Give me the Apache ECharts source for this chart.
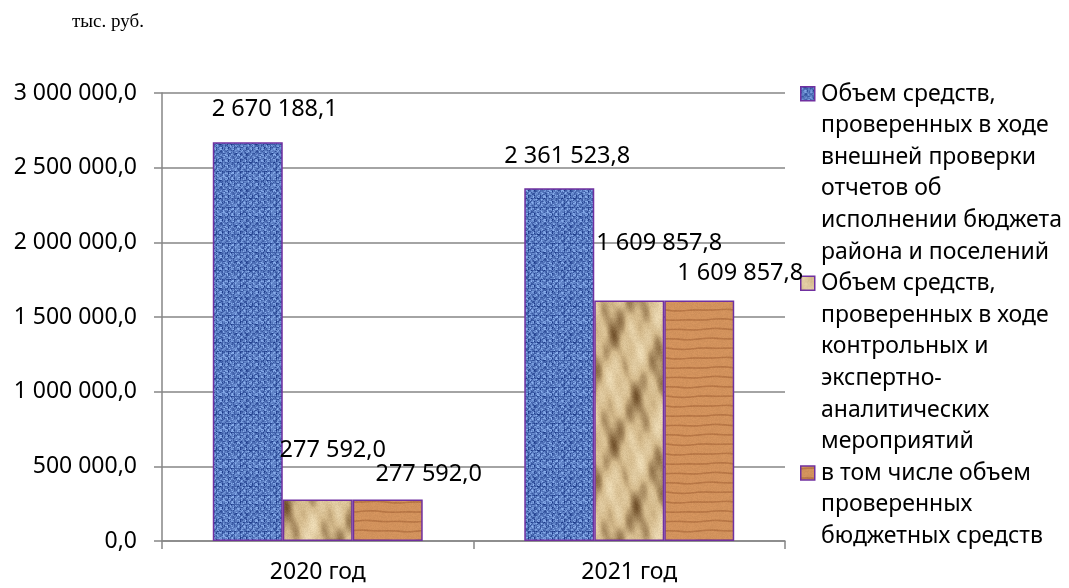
<!DOCTYPE html>
<html>
<head>
<meta charset="utf-8">
<script src="https://cdn.jsdelivr.net/npm/echarts@6/dist/echarts.min.js"></script>
<style>
html,body{margin:0;padding:0;background:#fff;}
#c{width:1069px;height:588px;}
</style>
</head>
<body>
<div id="c"></div>
<script>
// ---- data ----
var categories = ['2020 год', '2021 год'];
var seriesNames = [
  'Объем средств,\nпроверенных в ходе\nвнешней проверки\nотчетов об\nисполнении бюджета\nрайона и поселений',
  'Объем средств,\nпроверенных в ходе\nконтрольных и\nэкспертно-\nаналитических\nмероприятий',
  'в том числе объем\nпроверенных\nбюджетных средств'
];
var externalCheck = [2670188.1, 2361523.8];
var controlEvents = [277592.0, 1609857.8];
var budgetFunds = [277592.0, 1609857.8];
var yTicks = {min: 0, max: 3000000, interval: 500000};
var unitText = 'тыс. руб.';

// ---- helpers ----
function fmt(v) {
  var s = Number(v).toFixed(1).split('.');
  var i = s[0].replace(/\B(?=(\d{3})+(?!\d))/g, ' ');
  return i + ',' + s[1];
}
function hash(x, y) {
  var n = Math.sin(x * 127.1 + y * 311.7) * 43758.5453;
  return n - Math.floor(n);
}
function makeTile(w, h, fn) {
  var c = document.createElement('canvas');
  c.width = w; c.height = h;
  var ctx = c.getContext('2d');
  var img = ctx.createImageData(w, h);
  for (var y = 0; y < h; y++) {
    for (var x = 0; x < w; x++) {
      var col = fn(x, y);
      var k = (y * w + x) * 4;
      img.data[k] = col[0]; img.data[k + 1] = col[1]; img.data[k + 2] = col[2]; img.data[k + 3] = 255;
    }
  }
  ctx.putImageData(img, 0, 0);
  return c;
}
function lerp(a, b, t) {
  t = Math.max(0, Math.min(1, t));
  return [a[0] + (b[0] - a[0]) * t, a[1] + (b[1] - a[1]) * t, a[2] + (b[2] - a[2]) * t];
}
var TAU = Math.PI * 2;
// burlap blue
var blueTile = makeTile(36, 36, function (x, y) {
  var light = [140, 178, 240], dark = [26, 56, 135];
  var weave = ((Math.floor(x / 3) + Math.floor(y / 3)) % 2) ? 0.3 : 0;
  var grid = (x % 6 === 0 || y % 9 === 0) ? 0.25 : 0;
  var t = weave + grid + hash(x, y) * 0.55 - 0.02;
  return lerp(light, dark, t);
});
// crumpled paper beige
var BW = 70, BH = 110;
var beigeTile = makeTile(BW, BH, function (x, y) {
  var u = x / BW, w = y / BH;
  var v = Math.sin(TAU * (u + w)) + 0.8 * Math.sin(TAU * (2 * u - w) + 1.3) +
          0.6 * Math.sin(TAU * (3 * u + 2 * w) + 2.1) + 0.4 * Math.sin(TAU * (5 * u - 3 * w) + 0.7);
  var base = [212, 186, 140], dark = [118, 86, 48], light = [242, 226, 190];
  var col = v > 0 ? lerp(base, light, v * 0.32) : lerp(base, dark, -v * 0.38);
  var n = (hash(x, y) - 0.5) * 14;
  return [col[0] + n, col[1] + n, col[2] + n];
});
// wood orange
var WW = 70, WH = 48;
var woodTile = makeTile(WW, WH, function (x, y) {
  var v = Math.sin(TAU * (y / WH) * 5 + 0.35 * Math.sin(TAU * x / WW) + 0.25 * Math.sin(TAU * (2 * x / WW + y / WH)));
  var base = [210, 146, 92], dark = [168, 102, 56];
  var t = v > 0.7 ? (v - 0.7) * 2.2 : 0;
  var n = (hash(x, y) - 0.5) * 10;
  var col = lerp(base, dark, t);
  return [col[0] + n, col[1] + n * 0.8, col[2] + n * 0.6];
});
var patterns = [
  {image: blueTile, repeat: 'repeat'},
  {image: beigeTile, repeat: 'repeat'},
  {image: woodTile, repeat: 'repeat'}
];
var border = '#7030A0';
var FONT = 'Noto Sans';

function barData(vals, offs) {
  return vals.map(function (v, i) {
    return {value: v, label: {offset: offs[i]}};
  });
}

var seriesVals = [externalCheck, controlEvents, budgetFunds];
var labelOffsets = [
  [[27, -16], [8, -15]],
  [[15, -32], [30, -40]],
  [[41, -8], [41, -10]]
];

var series = seriesVals.map(function (vals, si) {
  return {
    type: 'bar',
    name: seriesNames[si],
    data: barData(vals, labelOffsets[si]),
    barGap: '0%',
    barCategoryGap: '32.6%',
    itemStyle: {color: patterns[si], borderColor: border, borderWidth: 1.5},
    label: {
      show: true, position: 'top', distance: 5,
      color: '#000', fontFamily: FONT, fontSize: 23.5,
      formatter: function (p) { return fmt(p.value); }
    }
  };
});

// custom legend (icon aligned with first line)
var legendGraphics = [];
var legendTop = 94, lineH = 31.6, legendX = 800;
var lineCount = 0;
seriesNames.forEach(function (name, i) {
  var y = legendTop + lineCount * lineH;
  legendGraphics.push({
    type: 'rect', left: legendX, top: y - 8,
    shape: {width: 14, height: 14},
    style: {fill: patterns[i], stroke: border, lineWidth: 1.5}
  });
  legendGraphics.push({
    type: 'text', left: legendX + 21, top: y - lineH / 2,
    style: {text: name, fontFamily: FONT, fontSize: 23, lineHeight: lineH, fill: '#000'}
  });
  lineCount += name.split('\n').length;
});
legendGraphics.push({
  type: 'text', left: 72, top: 13,
  style: {text: unitText, fontFamily: 'Liberation Serif', fontSize: 19, fill: '#000'}
});

var chart = echarts.init(document.getElementById('c'));
chart.setOption({
  animation: false,
  backgroundColor: '#fff',
  grid: {left: 162, right: 284, top: 93, bottom: 47, containLabel: false},
  xAxis: {
    type: 'category', data: categories,
    axisLine: {lineStyle: {color: '#868686', width: 1.5}},
    axisTick: {show: true, length: 8, lineStyle: {color: '#868686', width: 1.5}},
    axisLabel: {color: '#000', fontFamily: FONT, fontSize: 23, margin: 20}
  },
  yAxis: {
    type: 'value', min: yTicks.min, max: yTicks.max, interval: yTicks.interval,
    axisLine: {show: true, lineStyle: {color: '#868686', width: 1.5}},
    axisTick: {show: true, length: 8, lineStyle: {color: '#868686', width: 1.5}},
    splitLine: {lineStyle: {color: '#868686', width: 1.5}},
    axisLabel: {color: '#000', fontFamily: FONT, fontSize: 23, margin: 25, formatter: fmt}
  },
  series: series,
  graphic: legendGraphics
});
</script>
</body>
</html>
